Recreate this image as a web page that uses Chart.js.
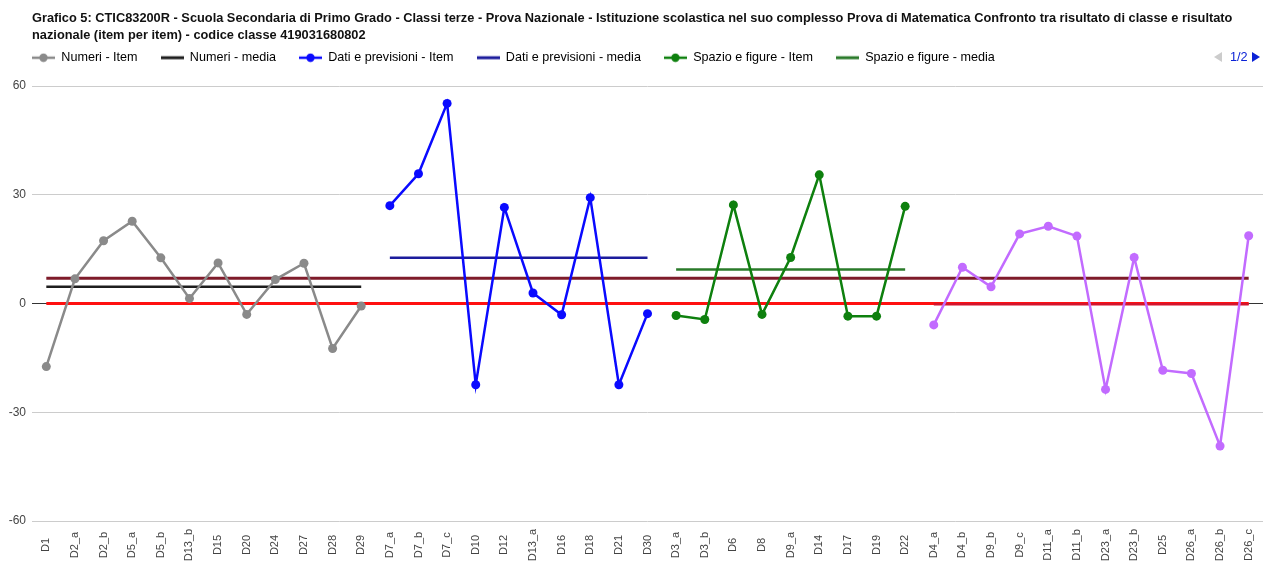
<!DOCTYPE html>
<html>
<head>
<meta charset="utf-8">
<script src="https://cdn.jsdelivr.net/npm/chart.js@4/dist/chart.umd.min.js"></script>
<style>
  html, body { margin: 0; padding: 0; background: #fff; }
  #wrap { position: relative; width: 1263px; height: 566px; }
</style>
</head>
<body>
<div id="wrap"><canvas id="c" width="1263" height="566"></canvas></div>
<script>
const titleLines = [
  'Grafico 5: CTIC83200R - Scuola Secondaria di Primo Grado - Classi terze - Prova Nazionale - Istituzione scolastica nel suo complesso Prova di Matematica Confronto tra risultato di classe e risultato',
  'nazionale (item per item) - codice classe 419031680802'
];

const categories = ['D1','D2_a','D2_b','D5_a','D5_b','D13_b','D15','D20','D24','D27','D28','D29',
  'D7_a','D7_b','D7_c','D10','D12','D13_a','D16','D18','D21','D30',
  'D3_a','D3_b','D6','D8','D9_a','D14','D17','D19','D22',
  'D4_a','D4_b','D9_b','D9_c','D11_a','D11_b','D23_a','D23_b','D25','D26_a','D26_b','D26_c'];

const numeriCats = ['D1','D2_a','D2_b','D5_a','D5_b','D13_b','D15','D20','D24','D27','D28','D29'];
const numeriVals = [-17.4, 6.8, 17.3, 22.7, 12.6, 1.4, 11.2, -3.0, 6.6, 11.1, -12.4, -0.7];
const numeriMedia = 4.6;

const datiCats = ['D7_a','D7_b','D7_c','D10','D12','D13_a','D16','D18','D21','D30'];
const datiVals = [27.0, 35.8, 55.2, -22.4, 26.5, 2.9, -3.1, 29.2, -22.4, -2.8];
const datiMedia = 12.6;

const spazioCats = ['D3_a','D3_b','D6','D8','D9_a','D14','D17','D19','D22'];
const spazioVals = [-3.3, -4.4, 27.2, -3.0, 12.7, 35.5, -3.5, -3.5, 26.8];
const spazioMedia = 9.4;

const relazioniCats = ['D4_a','D4_b','D9_b','D9_c','D11_a','D11_b','D23_a','D23_b','D25','D26_a','D26_b','D26_c'];
const relazioniVals = [-5.9, 10.0, 4.6, 19.2, 21.3, 18.6, -23.7, 12.7, -18.4, -19.3, -39.3, 18.7];
const relazioniMedia = -0.2;

const classeMedia = 7.0;
const italiaMedia = 0;

const yTicks = [-60, -30, 0, 30, 60];

const FONT = '"Liberation Sans", Arial, sans-serif';

function pts(cats, vals) { return cats.map((c, i) => ({x: c, y: vals[i]})); }
function seg(cats, v) { return [{x: cats[0], y: v}, {x: cats[cats.length - 1], y: v}]; }

function markerItem(color) {
  const cv = document.createElement('canvas');
  cv.width = 23; cv.height = 10;
  const g = cv.getContext('2d');
  g.strokeStyle = color; g.lineWidth = 2.5;
  g.beginPath(); g.moveTo(0, 5); g.lineTo(23, 5); g.stroke();
  g.fillStyle = color;
  g.beginPath(); g.arc(11.5, 5, 4.2, 0, Math.PI * 2); g.fill();
  return cv;
}
function markerLine(color) {
  const cv = document.createElement('canvas');
  cv.width = 23; cv.height = 10;
  const g = cv.getContext('2d');
  g.strokeStyle = color; g.lineWidth = 3;
  g.beginPath(); g.moveTo(0, 5); g.lineTo(23, 5); g.stroke();
  return cv;
}

const GRAY = '#8a8a8a', BLACK = '#1e1e1e', BLUE = '#0a0aff', NAVY = '#1c1c9c',
      GREEN = '#0e800e', DGREEN = '#2a7a2a', PURPLE = '#c26bff', MAROON = '#7e1b2a', RED = '#ff1010', DRED = '#d4142c';

function itemDs(label, data, color) {
  return { label, data, borderColor: color, backgroundColor: color, borderWidth: 2.5,
    pointRadius: 4.5, pointBorderWidth: 0, pointBackgroundColor: color, tension: 0, order: 0,
    _marker: markerItem(color) };
}
function mediaDs(label, data, color, order) {
  return { label, data, borderColor: color, backgroundColor: color, borderWidth: 2.5,
    pointRadius: 0, tension: 0, order: order, _marker: markerLine(color) };
}

const datasets = [
  itemDs('Numeri - Item', pts(numeriCats, numeriVals), GRAY),
  mediaDs('Numeri - media', seg(numeriCats, numeriMedia), BLACK, 1),
  itemDs('Dati e previsioni - Item', pts(datiCats, datiVals), BLUE),
  mediaDs('Dati e previsioni - media', seg(datiCats, datiMedia), NAVY, 1),
  itemDs('Spazio e figure - Item', pts(spazioCats, spazioVals), GREEN),
  mediaDs('Spazio e figure - media', seg(spazioCats, spazioMedia), DGREEN, 1),
  itemDs('Relazioni e funzioni - Item', pts(relazioniCats, relazioniVals), PURPLE),
  mediaDs('Relazioni e funzioni - media', seg(relazioniCats, relazioniMedia), DRED, 2),
  mediaDs('Media classe', seg(categories, classeMedia), MAROON, 2),
  mediaDs('Media nazionale', seg(categories, italiaMedia), RED, 3)
];
datasets[8].borderWidth = 3;
datasets[9].borderWidth = 3;

const decorPlugin = {
  id: 'decor',
  afterLayout(chart) {
    const lg = chart.legend;
    if (lg) { lg.top -= 12; lg.bottom -= 12; }
  },
  afterDraw(chart) {
    const ctx = chart.ctx;
    ctx.save();
    // title
    ctx.fillStyle = '#111';
    ctx.font = 'bold 12.8px ' + FONT;
    ctx.textBaseline = 'middle';
    ctx.textAlign = 'left';
    ctx.fillText(titleLines[0], 32, 18);
    ctx.fillText(titleLines[1], 32, 35);
    // legend pager
    ctx.fillStyle = '#cccccc';
    ctx.beginPath(); ctx.moveTo(1214, 57); ctx.lineTo(1222, 52); ctx.lineTo(1222, 62); ctx.closePath(); ctx.fill();
    ctx.fillStyle = '#0b22d6';
    ctx.font = '12.7px ' + FONT;
    ctx.fillText('1/2', 1230, 57);
    ctx.beginPath(); ctx.moveTo(1260, 57); ctx.lineTo(1252, 52); ctx.lineTo(1252, 62); ctx.closePath(); ctx.fill();
    // x category labels, rotated, centred on a fixed line
    const xs = chart.scales.x;
    ctx.fillStyle = '#444';
    ctx.font = '11px ' + FONT;
    ctx.textAlign = 'center';
    ctx.textBaseline = 'middle';
    categories.forEach((lab, i) => {
      const x = xs.getPixelForValue(i);
      ctx.save();
      ctx.translate(x, 545);
      ctx.rotate(-Math.PI / 2);
      ctx.fillText(lab, 0, 0);
      ctx.restore();
    });
    ctx.restore();
  }
};

new Chart(document.getElementById('c'), {
  type: 'line',
  data: { labels: categories, datasets },
  plugins: [decorPlugin],
  options: {
    responsive: false,
    animation: false,
    events: [],
    layout: { autoPadding: false, padding: { left: 9, top: 16, right: 0, bottom: 0 } },
    plugins: {
      title: { display: false },
      tooltip: { enabled: false },
      legend: {
        display: true,
        position: 'top',
        align: 'start',
        labels: {
          usePointStyle: true,
          pointStyleWidth: 23,
          boxHeight: 10,
          padding: 23,
          color: '#222',
          font: { family: FONT, size: 12.6 },
          generateLabels(chart) {
            return chart.data.datasets.slice(0, 6).map((ds, i) => ({
              text: ds.label, datasetIndex: i, pointStyle: ds._marker,
              fillStyle: ds.borderColor, strokeStyle: ds.borderColor, lineWidth: 0, hidden: false
            }));
          }
        }
      }
    },
    scales: {
      x: {
        type: 'category',
        offset: true,
        grid: { display: false, drawTicks: false },
        border: { display: false },
        ticks: { display: false, autoSkip: false },
        afterFit(scale) { scale.height = 45; scale.paddingLeft = 0; scale.paddingRight = 0; }
      },
      y: {
        min: -60, max: 60,
        afterBuildTicks(scale) { scale.ticks = yTicks.map(v => ({value: v})); },
        grid: {
          drawTicks: false,
          color: ctx => (ctx.tick && ctx.tick.value === 0) ? '#333' : '#cccccc',
          lineWidth: 1
        },
        border: { display: false },
        ticks: { padding: 6, color: '#444', font: { family: FONT, size: 12 } },
        afterFit(scale) { scale.width = 23; scale.paddingTop = 86; }
      }
    }
  }
});
</script>
</body>
</html>
